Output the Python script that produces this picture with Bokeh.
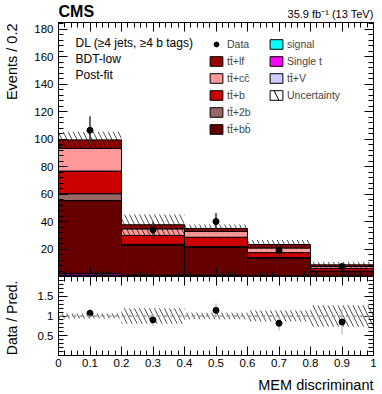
import numpy as np
from bokeh.plotting import figure
from bokeh.models import (FixedTicker, LinearAxis, Label, Legend, LegendItem,
                          Range1d, Span, CustomLabelingPolicy)
from bokeh.layouts import column
from bokeh.embed import file_html
from bokeh.resources import INLINE

# ---------------- data ----------------
bin_edges = [0.0, 0.2, 0.4, 0.6, 0.8, 1.0]
ttV = [0.8, 0.4, 0.3, 0.2, 0.1]
single_t = [1.2, 0.3, 0.4, 0.2, 0.1]
signal = [0.3, 0.2, 0.2, 0.1, 0.1]
ttbb = [53.0, 22.0, 20.5, 13.0, 3.4]
tt2b = [5.0, 0.5, 0.4, 0.3, 0.2]
ttb = [16.5, 6.5, 6.8, 3.6, 2.0]
ttcc = [16.5, 4.8, 4.2, 3.4, 1.4]
ttlf = [6.2, 3.0, 2.2, 2.5, 1.2]
data = [106.5, 34.0, 40.0, 19.0, 7.2]
data_err = [10.3, 5.8, 6.3, 4.4, 2.7]
unc = [6.0, 7.5, 2.8, 3.2, 2.3]

y_ticks = [20, 40, 60, 80, 100, 120, 140, 160, 180]
x_ticks = [0.0, 0.1, 0.2, 0.3, 0.4, 0.5, 0.6, 0.7, 0.8, 0.9, 1.0]
x_tick_labels = ["0", "0.1", "0.2", "0.3", "0.4", "0.5", "0.6", "0.7", "0.8", "0.9", "1"]
r_ticks = [0.5, 1.0, 1.5]
r_tick_labels = ["0.5", "1", "1.5"]

FONT = "Liberation Sans"

# stack order bottom -> top
stack = [
    ("tt̄+V", ttV, "#ccccff"),
    ("Single t", single_t, "#ff00ff"),
    ("signal", signal, "#00ffff"),
    ("tt̄+bb̄", ttbb, "#660000"),
    ("tt̄+2b", tt2b, "#996666"),
    ("tt̄+b", ttb, "#cc0000"),
    ("tt̄+cc̄", ttcc, "#ff9999"),
    ("tt̄+lf", ttlf, "#990000"),
]

left = np.array(bin_edges[:-1])
right = np.array(bin_edges[1:])
centers = (left + right) / 2.0

# ---------------- geometry ----------------
FW, FH0, FH1, FH2 = 315, 22, 254, 79
YMAX = 185.0


def px_x(xp):
    return (xp - 58.0) / FW


def px_y0(yp):
    return FH0 - yp


def px_y1(yp):
    return (276.0 - yp) * YMAX / FH1


def px_y2(yp):
    return (355.0 - yp) * 2.0 / FH2


NO_LABELS = """
try { for (const i of Array.from(indices)) indices.unset(i) } catch (e) {}
return indices
"""


def style_axis(ax, labels=True, size="11.5px", standoff=4):
    ax.axis_line_color = "black"
    ax.major_tick_line_color = "black"
    ax.minor_tick_line_color = "black"
    ax.major_tick_in = 9
    ax.major_tick_out = 0
    ax.minor_tick_in = 5
    ax.minor_tick_out = 0
    ax.major_label_text_font = FONT
    ax.major_label_text_color = "black"
    if labels:
        ax.major_label_text_font_size = size
        ax.major_label_standoff = standoff
    else:
        ax.major_label_text_font_size = "0px"
        ax.major_label_standoff = 0
        ax.major_label_policy = CustomLabelingPolicy(code=NO_LABELS)


txt = dict(text_font=FONT, text_color="black")

# ---------------- header strip (CMS / luminosity) ----------------
h = figure(frame_width=FW, frame_height=FH0, x_range=Range1d(0, 1), y_range=Range1d(0, FH0),
           output_backend="svg", toolbar_location=None,
           x_axis_location=None, y_axis_location=None,
           min_border_left=58, min_border_right=9, min_border_top=0, min_border_bottom=0)
h.grid.grid_line_color = None
h.outline_line_color = None
h.add_layout(Label(x=0.0, y=px_y0(10.5), text="CMS", text_font_size="16px",
                   text_font_style="bold", text_baseline="middle", **txt))
h.add_layout(Label(x=1.0, y=px_y0(13.5), text="35.9 fb⁻¹ (13 TeV)", text_font_size="11px",
                   text_align="right", text_baseline="middle", **txt))

# ---------------- main panel ----------------
p = figure(frame_width=FW, frame_height=FH1, x_range=Range1d(0, 1), y_range=Range1d(0, YMAX),
           output_backend="svg", toolbar_location=None,
           x_axis_location=None, y_axis_location=None,
           min_border_left=58, min_border_right=9, min_border_top=0, min_border_bottom=0)
p.grid.grid_line_color = None
p.outline_line_color = "black"
p.background_fill_color = "white"

yt = FixedTicker(ticks=y_ticks, minor_ticks=list(range(0, 186, 4)))
xt = FixedTicker(ticks=x_ticks, minor_ticks=[i * 0.02 for i in range(51)])
ax_l = LinearAxis(ticker=yt)
style_axis(ax_l, True, "11.5px", 5)
ax_r = LinearAxis(ticker=yt)
style_axis(ax_r, False)
ax_b = LinearAxis(ticker=xt)
style_axis(ax_b, False)
ax_t = LinearAxis(ticker=xt)
style_axis(ax_t, False)
p.add_layout(ax_l, "left")
p.add_layout(ax_r, "right")
p.add_layout(ax_b, "below")
p.add_layout(ax_t, "above")

bottom = np.zeros(len(left))
renderers = {}
for name, vals, col in stack:
    vals = np.array(vals)
    r = p.quad(left=left, right=right, bottom=bottom, top=bottom + vals,
               fill_color=col, line_color="black", line_width=1)
    renderers[name] = r
    bottom = bottom + vals
total = bottom

band = p.quad(left=left, right=right, bottom=total - np.array(unc), top=total + np.array(unc),
              fill_alpha=0, line_color=None, hatch_pattern="\\", hatch_color="black",
              hatch_alpha=0.85, hatch_scale=10, hatch_weight=0.8)

p.segment(x0=centers, y0=np.array(data) - np.array(data_err), x1=centers,
          y1=np.array(data) + np.array(data_err), line_color="#333333", line_width=1.5)
data_r = p.scatter(x=centers, y=data, size=6, fill_color="black", line_color="black")

# legend-only renderer for the uncertainty entry (nothing drawn in the frame)
unc_leg = p.quad(left=[np.nan], right=[np.nan], bottom=[np.nan], top=[np.nan],
                 fill_color="white", line_color="black",
                 hatch_pattern="\\", hatch_color="black", hatch_scale=18, hatch_weight=1)

leg_kw = dict(background_fill_alpha=0, border_line_alpha=0, padding=0, margin=0, spacing=5,
              glyph_width=16, glyph_height=12, label_standoff=3, label_text_font=FONT,
              label_text_font_size="10.5px", label_height=12, label_text_baseline="middle")
legend1 = Legend(items=[LegendItem(label="Data", renderers=[data_r])] +
                 [LegendItem(label=n, renderers=[renderers[n]])
                  for n in ["tt̄+lf", "tt̄+cc̄", "tt̄+b", "tt̄+2b", "tt̄+bb̄"]],
                 location=(150, 141), **leg_kw)
legend2 = Legend(items=[LegendItem(label=n, renderers=[renderers[n]])
                        for n in ["signal", "Single t", "tt̄+V"]] +
                 [LegendItem(label="Uncertainty", renderers=[unc_leg])],
                 location=(210, 175), **leg_kw)
p.add_layout(legend1, "center")
p.add_layout(legend2, "center")

for t, yc in [("DL (≥4 jets, ≥4 b tags)", 42.8), ("BDT-low", 58.8), ("Post-fit", 74.5)]:
    p.add_layout(Label(x=px_x(75), y=px_y1(yc), text=t, text_font_size="12px",
                       text_baseline="middle", **txt))
p.add_layout(Label(x=px_x(11), y=px_y1(23), text="Events / 0.2", angle=np.pi / 2,
                   text_font_size="14.5px", text_align="right", text_baseline="middle",
                   **txt), "left")

# ---------------- ratio panel ----------------
q = figure(frame_width=FW, frame_height=FH2, x_range=Range1d(0, 1), y_range=Range1d(0, 2),
           output_backend="svg", toolbar_location=None,
           x_axis_location=None, y_axis_location=None,
           min_border_left=58, min_border_right=9, min_border_top=0, min_border_bottom=39)
q.grid.grid_line_color = None
q.outline_line_color = "black"

rt = FixedTicker(ticks=r_ticks, minor_ticks=[i * 0.1 for i in range(21)])
xt2 = FixedTicker(ticks=x_ticks, minor_ticks=[i * 0.02 for i in range(51)])
bx_l = LinearAxis(ticker=rt, major_label_overrides={t: s for t, s in zip(r_ticks, r_tick_labels)})
style_axis(bx_l, True, "11.5px", 5)
bx_r = LinearAxis(ticker=rt)
style_axis(bx_r, False)
bx_b = LinearAxis(ticker=xt2, major_label_overrides={t: s for t, s in zip(x_ticks, x_tick_labels)})
style_axis(bx_b, True, "11.5px", 3)
bx_t = LinearAxis(ticker=xt2)
style_axis(bx_t, False)
q.add_layout(bx_l, "left")
q.add_layout(bx_r, "right")
q.add_layout(bx_b, "below")
q.add_layout(bx_t, "above")

rel = np.array(unc) / total
q.quad(left=left, right=right, bottom=1 - rel, top=1 + rel, fill_alpha=0, line_color=None,
       hatch_pattern="\\", hatch_color="black", hatch_alpha=0.85, hatch_scale=10, hatch_weight=0.8)
q.add_layout(Span(location=1.0, dimension="width", line_color="#999999", line_dash="4 3",
                  line_width=1.5))
ratio = np.array(data) / total
ratio_err = np.array(data_err) / total
q.segment(x0=centers, y0=ratio - ratio_err, x1=centers, y1=ratio + ratio_err,
          line_color="#bbbbbb", line_width=1.2)
q.scatter(x=centers, y=ratio, size=6, fill_color="black", line_color="black")

q.add_layout(Label(x=1.0, y=px_y2(384), text="MEM discriminant", text_font_size="14.5px",
                   text_align="right", text_baseline="middle", **txt), "below")
q.add_layout(Label(x=px_x(11), y=px_y2(280), text="Data / Pred.", angle=np.pi / 2,
                   text_font_size="14px", text_align="right", text_baseline="middle",
                   **txt), "left")

layout = column(h, p, q, spacing=0)
open("out.html", "w").write(file_html(layout, INLINE))
